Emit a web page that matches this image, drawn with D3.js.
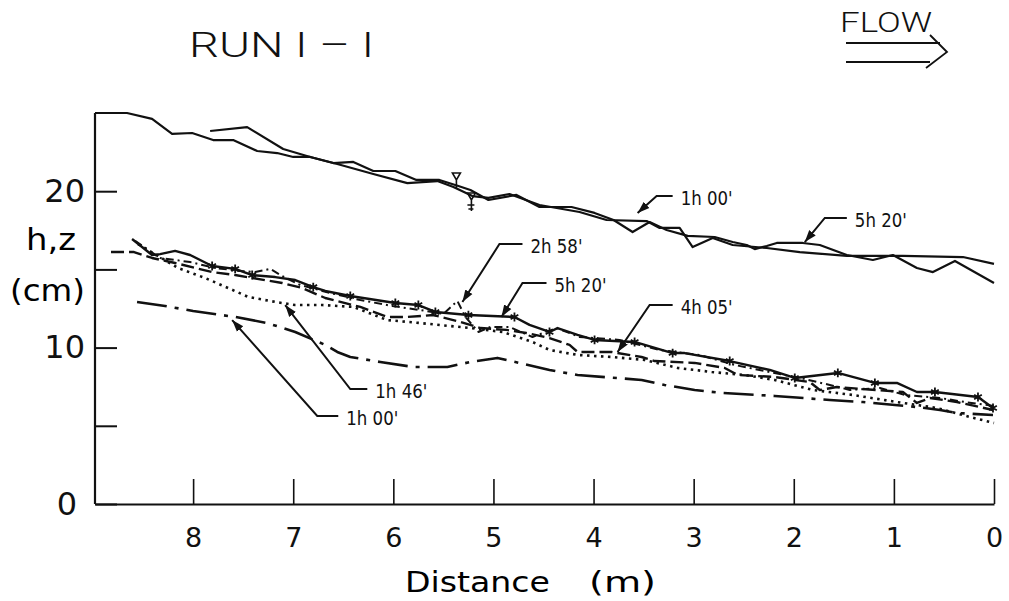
<!DOCTYPE html>
<meta charset="utf-8">
<head>
<script src="https://cdn.jsdelivr.net/npm/d3@7"></script>
<style>
  body { margin: 0; background: #fff; }
  svg { font-family: "DejaVu Sans", sans-serif; }
  .tick text { fill: #111; }
  .note { font-family: "DejaVu Sans Condensed", "Liberation Sans Narrow", sans-serif; font-size: 19px; fill: #111; }
  .narrow { font-family: "Roboto", "Liberation Sans", sans-serif; font-weight: 300; fill: #111; }
</style>
</head>
<body>
<div id="chart"></div>
<script>
// distance (m) , h or z (cm)
var surface5h20 = [[8.98,25.0],[8.66,25.0],[8.41,24.62],[8.21,23.66],[8.01,23.72],[7.80,23.27],[7.60,23.27],[7.36,22.57],[7.16,22.44],[7.00,22.19],[6.83,22.19],[6.60,21.80],[6.40,21.87],[6.20,21.29],[5.98,21.29],[5.77,20.72],[5.54,20.72],[5.35,20.33],[5.23,20.08],[5.05,19.44],[4.77,19.76],[4.54,18.99],[4.22,18.99],[3.99,18.61],[3.80,18.16],[3.61,17.39],[3.44,18.03],[3.27,17.52],[3.06,17.14],[2.79,17.07],[2.61,16.75],[2.47,16.56],[2.39,16.30],[2.27,16.50],[2.17,16.69],[1.91,16.69],[1.74,16.56],[1.47,15.92],[1.21,15.60],[1.01,15.92],[0.77,15.09],[0.61,14.83],[0.39,15.54],[0,14.13]];
var surface1h00 = [[7.83,23.85],[7.46,24.10],[7.10,22.70],[6.83,22.19],[6.56,21.74],[6.20,21.10],[5.86,20.52],[5.56,20.65],[5.40,20.27],[5.21,19.69],[5.05,19.57],[4.84,19.82],[4.54,19.12],[4.14,18.67],[3.87,18.16],[3.47,18.09],[3.34,17.65],[3.14,17.65],[3.01,16.43],[2.81,17.01],[2.61,16.56],[2.27,16.37],[1.94,16.11],[1.47,15.86],[0.91,15.86],[0.31,15.79],[0,15.35]];

// bed z, third value 1 = asterisk drawn
var bed5h20 = [[8.61,16.94,0],[8.41,15.92,0],[8.33,15.98,0],[8.18,16.18,0],[8.03,15.92,0],[7.81,15.22,1],[7.58,15.03,1],[7.41,14.64,1],[7.18,14.51,0],[6.98,14.32,0],[6.80,13.87,1],[6.68,13.62,0],[6.43,13.30,1],[5.98,12.85,1],[5.75,12.72,1],[5.58,12.28,1],[5.25,12.08,1],[4.79,11.96,1],[4.64,11.45,0],[4.44,11.00,1],[4.36,11.25,0],[4.16,10.81,0],[3.99,10.49,1],[3.59,10.36,1],[3.21,9.65,1],[3.09,9.65,0],[2.64,9.14,1],[2.24,8.57,0],[1.99,8.06,1],[1.56,8.38,1],[1.19,7.74,1],[0.97,7.74,0],[0.77,7.16,0],[0.59,7.16,1],[0.16,6.84,1],[0.01,6.14,1]];
var bed4h05 = [[8.82,16.11],[8.59,16.11],[8.41,15.73],[8.18,15.41],[7.81,14.83],[7.58,14.64],[7.41,14.45],[7.11,14.13],[6.91,13.81],[6.68,13.17],[6.33,12.60],[6.06,11.96],[5.86,11.96],[5.60,12.08],[5.33,11.64],[5.13,11.25],[4.87,11.13],[4.67,10.93],[4.44,10.61],[4.24,10.17],[4.16,9.72],[3.82,9.72],[3.52,9.40],[3.39,9.14],[2.99,9.02],[2.69,8.70],[2.56,8.25],[2.19,8.12],[1.84,7.80],[1.74,7.29],[1.57,7.48],[0.91,7.16],[0.77,6.46],[0.64,6.78],[0.37,6.52],[0.01,6.01]];
var bed2h58 = [[8.58,16.82],[8.33,15.73],[8.03,15.47],[7.78,15.09],[7.53,14.90],[7.38,14.83],[7.23,15.03],[7.11,14.58],[6.93,14.00],[6.63,13.49],[6.33,13.04],[6.01,12.66],[5.73,12.40],[5.50,12.15],[5.36,12.98],[5.28,11.96],[5.15,11.00],[5.03,11.32],[4.84,11.32],[4.61,10.68],[4.37,11.25],[4.14,10.68],[3.74,10.49],[3.34,9.85],[2.94,9.53],[2.59,8.89],[2.24,8.44],[1.94,8.06],[1.64,7.61],[1.44,7.29],[1.14,7.42],[0.89,6.97],[0.54,6.78],[0.29,6.52],[0,6.27]];
var bed1h46 = [[8.55,16.62],[8.15,15.09],[7.88,14.45],[7.65,13.81],[7.45,13.24],[7.18,12.92],[6.98,12.72],[6.71,12.72],[6.40,12.60],[6.06,11.76],[5.73,11.57],[5.23,11.25],[4.91,11.00],[4.61,10.36],[4.44,9.85],[4.16,9.53],[3.82,9.40],[3.49,9.21],[3.16,8.70],[2.82,8.44],[2.49,8.25],[2.19,7.93],[1.81,7.29],[1.41,6.97],[0.97,6.52],[0.57,6.14],[0.24,5.56],[0,5.18]];
var bed1h00 = [[8.56,12.92],[8.28,12.66],[8.00,12.34],[7.58,11.96],[7.26,11.57],[6.98,11.00],[6.68,10.17],[6.56,9.72],[6.43,9.40],[6.13,9.08],[5.80,8.76],[5.46,8.76],[5.23,9.08],[4.96,9.34],[4.74,9.02],[4.44,8.57],[4.16,8.25],[3.52,7.93],[3.29,7.61],[2.99,7.29],[2.72,7.10],[2.19,6.91],[1.64,6.65],[1.31,6.52],[0.77,6.20],[0.54,6.01],[0.37,5.82],[0.01,5.69]];

// water level marks
var levelMarks = [[5.37,20.91],[5.22,19.63]];

var xTicks = [8,7,6,5,4,3,2,1,0];
var yTicks = [0,5,10,15,20];
var yTickLabels = ["0","","10","","20"];

// label text, end of horizontal leader, bend, arrow tip
var noteText = ["1h 00'","5h 20'","2h 58'","5h 20'","4h 05'","1h 46'","1h 00'"];
var noteEnd  = [[3.21,19.69],[1.47,18.29],[4.71,16.62],[4.47,14.13],[3.21,12.72],[6.26,7.35],[6.55,5.63]];
var noteBend = [[3.37,19.69],[1.69,18.29],[4.94,16.62],[4.71,14.13],[3.44,12.72],[6.43,7.35],[6.76,5.63]];
var noteTip  = [[3.56,18.61],[1.89,16.75],[5.31,12.92],[4.92,11.96],[3.76,9.72],[7.08,12.72],[7.61,11.76]];

var w = 1009, h = 601;
var svg = d3.select("#chart").append("svg").attr("width", w).attr("height", h);

var x = d3.scaleLinear().domain([8.98, 0]).range([95, 994]);
var y = d3.scaleLinear().domain([0, 25]).range([504, 113]);

// axes
var xAxis = d3.axisBottom(x).tickValues(xTicks).tickSize(-25).tickSizeOuter(0).tickPadding(24);
var gx = svg.append("g").attr("transform", "translate(0," + y(0) + ")").call(xAxis);
gx.select(".domain").attr("stroke", "#111").attr("stroke-width", 2.2);
gx.selectAll(".tick line").attr("stroke", "#111").attr("stroke-width", 1.6);
gx.selectAll(".tick text").attr("font-size", 27).attr("font-family", "DejaVu Sans");

var yAxis = d3.axisLeft(y).tickValues(yTicks).tickSize(-22).tickSizeOuter(0).tickPadding(10)
  .tickFormat(function(d, i) { return yTickLabels[i]; });
var gy = svg.append("g").attr("transform", "translate(" + x(8.98) + ",0)").call(yAxis);
gy.select(".domain").attr("stroke", "#111").attr("stroke-width", 2.2).attr("d", "M0," + y(0) + "V" + y(25));
gy.selectAll(".tick line").attr("stroke", "#111").attr("stroke-width", 2);
gy.selectAll(".tick text").attr("font-size", 32).attr("font-family", "DejaVu Sans");
gy.selectAll(".tick text").filter(function(d) { return d === 0; }).attr("x", -18);

svg.append("text").attr("x", 26).attr("y", 250).attr("font-size", 30)
  .attr("textLength", 50).attr("lengthAdjust", "spacingAndGlyphs").text("h,z");
svg.append("text").attr("x", 10).attr("y", 301).attr("font-size", 30)
  .attr("textLength", 75).attr("lengthAdjust", "spacingAndGlyphs").text("(cm)");

svg.append("text").attr("x", 405).attr("y", 592).attr("font-size", 29)
  .attr("textLength", 145).attr("lengthAdjust", "spacingAndGlyphs").text("Distance");
svg.append("text").attr("x", 589).attr("y", 592).attr("font-size", 29)
  .attr("textLength", 67).attr("lengthAdjust", "spacingAndGlyphs").text("(m)");

// title + flow arrow
svg.append("text").attr("class", "narrow").attr("x", 189).attr("y", 57).attr("font-size", 35)
  .attr("textLength", 185).attr("lengthAdjust", "spacingAndGlyphs").text("RUN I \u2013 I");
svg.append("text").attr("class", "narrow").attr("x", 840).attr("y", 32).attr("font-size", 27)
  .attr("textLength", 92).attr("lengthAdjust", "spacingAndGlyphs").text("FLOW");
var flow = svg.append("g").attr("stroke", "#111").attr("stroke-width", 1.8).attr("fill", "none");
flow.append("path").attr("d", "M846,43H940M846,62H930M930,35L947,52L926,68");

// lines
var line = d3.line().x(function(d) { return x(d[0]); }).y(function(d) { return y(d[1]); });

function drawLine(data, width, dash) {
  var p = svg.append("path").datum(data).attr("d", line)
    .attr("fill", "none").attr("stroke", "#111").attr("stroke-width", width)
    .attr("stroke-linejoin", "round");
  if (dash) p.attr("stroke-dasharray", dash);
  return p;
}

drawLine(surface5h20, 2.2);
drawLine(surface1h00, 2.2);
drawLine(bed1h00, 2.6, "30,8,4,8");
drawLine(bed1h46, 2.6, "2.5,4.5");
drawLine(bed2h58, 2, "8,4,2,4");
drawLine(bed4h05, 2.4, "13,5");
drawLine(bed5h20, 2.4);

svg.append("g").selectAll("path")
  .data(bed5h20.filter(function(d) { return d[2] === 1; }))
  .enter().append("path")
  .attr("d", d3.symbol().type(d3.symbolAsterisk).size(55))
  .attr("transform", function(d) { return "translate(" + x(d[0]) + "," + y(d[1]) + ")"; })
  .attr("fill", "none").attr("stroke", "#111").attr("stroke-width", 1.8);

// water level marks
svg.append("g").selectAll("path").data(levelMarks).enter().append("path")
  .attr("transform", function(d) { return "translate(" + x(d[0]) + "," + y(d[1]) + ")"; })
  .attr("d", function(d, i) {
    return i === 0 ? "M-4,-4H4L0,3ZM0,3V12" : "M-4,-4H4L0,3ZM0,3V14M-4,8H3M-3,12H2";
  })
  .attr("fill", "none").attr("stroke", "#111").attr("stroke-width", 1.6);

// annotations
svg.append("defs").append("marker").attr("id", "arr")
  .attr("viewBox", "0 0 10 10").attr("refX", 10).attr("refY", 5)
  .attr("markerWidth", 12).attr("markerHeight", 12).attr("markerUnits", "userSpaceOnUse")
  .attr("orient", "auto")
  .append("path").attr("d", "M0,1.5L10,5L0,8.5Z").attr("fill", "#111");

var notes = svg.append("g");
noteText.forEach(function(t, i) {
  notes.append("path")
    .attr("d", "M" + x(noteEnd[i][0]) + "," + y(noteEnd[i][1]) +
               "L" + x(noteBend[i][0]) + "," + y(noteBend[i][1]) +
               "L" + x(noteTip[i][0]) + "," + y(noteTip[i][1]))
    .attr("fill", "none").attr("stroke", "#111").attr("stroke-width", 2)
    .attr("marker-end", "url(#arr)");
  notes.append("text").attr("class", "note")
    .attr("x", x(noteEnd[i][0]) + 8).attr("y", y(noteEnd[i][1]) + 9)
    .attr("textLength", 52).attr("lengthAdjust", "spacingAndGlyphs")
    .text(t);
});
</script>
</body>
